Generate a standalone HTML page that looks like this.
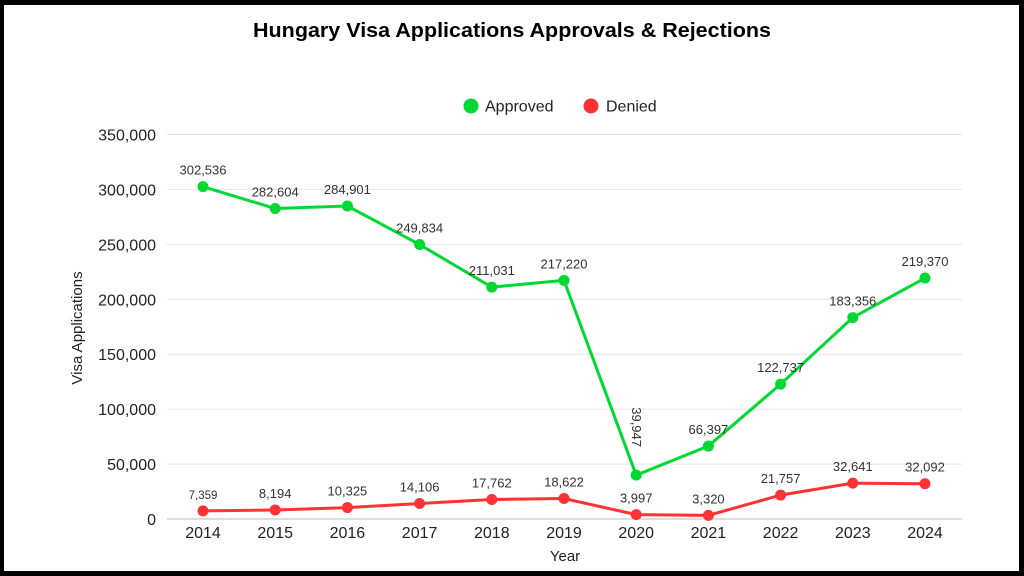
<!DOCTYPE html>
<html><head><meta charset="utf-8"><style>
html,body{margin:0;padding:0;background:#000;}
svg{display:block;}
</style></head><body>
<svg id="c" width="1024" height="576" xmlns="http://www.w3.org/2000/svg" font-family="Liberation Sans, sans-serif">
<rect x="0" y="0" width="1024" height="576" fill="#000"/>
<rect x="4" y="5" width="1015" height="566" fill="#fff"/>
<text x="512" y="37" text-anchor="middle" font-weight="bold" font-size="20" textLength="518" lengthAdjust="spacingAndGlyphs" fill="#000">Hungary Visa Applications Approvals &amp; Rejections</text>
<circle cx="471" cy="106" r="7.5" fill="#00d934"/>
<text x="485" y="111.5" font-size="16" fill="#222">Approved</text>
<circle cx="591" cy="106" r="7.5" fill="#ff3333"/>
<text x="606" y="111.5" font-size="16" fill="#222">Denied</text>
<text x="0" y="0" transform="translate(82,328) rotate(-90)" text-anchor="middle" font-size="15" fill="#222">Visa Applications</text>
<text x="565" y="561" text-anchor="middle" font-size="15" fill="#222">Year</text>
<g id="g"></g>
</svg>
<script>
var g=document.getElementById('g'),s='';
function Y(v){return 519-v/350000*384.5;}
for(var i=0;i<=7;i++){var v=i*50000,y=Y(v);
s+='<line x1="167" x2="962" y1="'+y+'" y2="'+y+'" stroke="'+(i==0?'#bbb':'#e4e4e4')+'" stroke-width="1"/>';
s+='<text x="156" y="'+(y+6)+'" text-anchor="end" font-size="16" fill="#222">'+(v==0?'0':v.toLocaleString('en-US'))+'</text>';}
var a=[302536,282604,284901,249834,211031,217220,39947,66397,122737,183356,219370];
var d=[7359,8194,10325,14106,17762,18622,3997,3320,21757,32641,32092];
function X(i){return 203+i*72.2;}
var pa='',pd='';
for(i=0;i<11;i++){pa+=(i?'L':'M')+X(i)+' '+Y(a[i]);pd+=(i?'L':'M')+X(i)+' '+Y(d[i]);
s+='<text x="'+X(i)+'" y="538" text-anchor="middle" font-size="16" fill="#222">'+(2014+i)+'</text>';}
s+='<path d="'+pa+'" fill="none" stroke="#00d934" stroke-width="3"/>';
s+='<path d="'+pd+'" fill="none" stroke="#ff3333" stroke-width="3"/>';
for(i=0;i<11;i++){
s+='<circle cx="'+X(i)+'" cy="'+Y(a[i])+'" r="5.5" fill="#00d934"/>';
s+='<circle cx="'+X(i)+'" cy="'+Y(d[i])+'" r="5.5" fill="#ff3333"/>';
var fs=(i==0?11.5:13);
s+='<text x="'+X(i)+'" y="'+(Y(d[i])-12)+'" text-anchor="middle" font-size="'+fs+'" fill="#333">'+d[i].toLocaleString('en-US')+'</text>';
if(i==6){s+='<text transform="translate('+(X(i)-4)+','+(Y(a[i])-48)+') rotate(90)" text-anchor="middle" font-size="13" fill="#333">'+a[i].toLocaleString('en-US')+'</text>';}
else s+='<text x="'+X(i)+'" y="'+(Y(a[i])-12)+'" text-anchor="middle" font-size="13" fill="#333">'+a[i].toLocaleString('en-US')+'</text>';}
g.innerHTML=s;
</script>
</body></html>
